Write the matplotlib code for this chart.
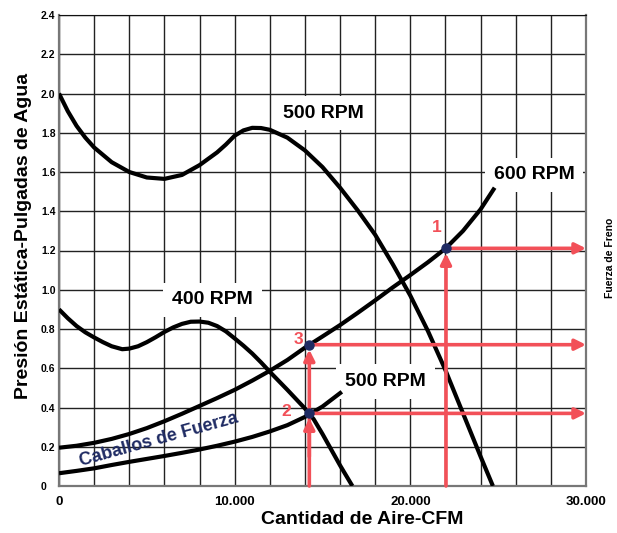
import matplotlib.pyplot as plt

plt.rcParams['font.family'] = ['Liberation Sans', 'DejaVu Sans']

RED = '#f25058'
NAVY = '#1f2b63'

# curva de presion 500 RPM (CFM, pulgadas de agua)
p500_x = [0, 500, 1000, 1500, 2000, 3000, 4000, 5000, 6000, 7000, 8000, 9000, 9500,
          10000, 10500, 11000, 11500, 12000, 13000, 14000, 15000, 16000, 17000,
          18000, 19000, 20000, 21000, 22000, 23000, 24000, 24700]
p500_y = [2.0, 1.91, 1.835, 1.775, 1.725, 1.65, 1.60, 1.572, 1.565, 1.585, 1.635, 1.70, 1.74,
          1.785, 1.812, 1.825, 1.824, 1.815, 1.775, 1.71, 1.625, 1.52, 1.405,
          1.28, 1.13, 0.97, 0.79, 0.59, 0.37, 0.15, 0.0]

# curva de presion 400 RPM
p400_x = [0, 500, 1000, 1500, 2000, 2500, 3000, 3600, 4000, 4500, 5000, 5500, 6000,
          6500, 7000, 7500, 8000, 8500, 9000, 9500, 10000, 10500, 11000, 11500,
          12000, 13000, 14000, 14500, 15000, 15500, 16000, 16700]
p400_y = [0.9, 0.855, 0.815, 0.783, 0.757, 0.733, 0.712, 0.697, 0.70, 0.712, 0.733, 0.758, 0.785,
          0.808, 0.826, 0.837, 0.838, 0.832, 0.815, 0.788, 0.752, 0.715, 0.675, 0.63,
          0.582, 0.49, 0.395, 0.34, 0.265, 0.185, 0.105, 0.0]

# caballos de fuerza 600 RPM
hp600_x = [0, 1000, 2000, 3000, 4000, 5000, 6000, 7000, 8000, 9000, 10000, 11000,
           12000, 13000, 14000, 15000, 16000, 17000, 18000, 19000, 20000, 21000,
           22000, 23000, 24000, 24800]
hp600_y = [0.195, 0.205, 0.22, 0.24, 0.265, 0.295, 0.33, 0.368, 0.408, 0.448, 0.49, 0.537,
           0.587, 0.642, 0.705, 0.762, 0.82, 0.882, 0.946, 1.012, 1.075, 1.14,
           1.21, 1.30, 1.41, 1.52]

# caballos de fuerza 500 RPM
hp500_x = [0, 1000, 2000, 3000, 4000, 5000, 6000, 7000, 8000, 9000, 10000, 11000,
           12000, 13000, 14000, 15000, 16100]
hp500_y = [0.065, 0.077, 0.09, 0.107, 0.123, 0.138, 0.153, 0.169, 0.186, 0.205, 0.226, 0.25,
           0.278, 0.31, 0.352, 0.405, 0.48]

# puntos de operacion
pt_x = [22030, 14250, 14250]
pt_y = [1.211, 0.37, 0.72]
pt_names = ['1', '2', '3']

x_ticks = list(range(0, 30001, 2000))
x_labels = {0: '0', 10000: '10.000', 20000: '20.000', 30000: '30.000'}
y_ticks = [i * 0.2 for i in range(13)]
y_labels = ['0', '0.2', '0.4', '0.6', '0.8', '1.0', '1.2', '1.4', '1.6', '1.8', '2.0', '2.2', '2.4']

fig = plt.figure(figsize=(6.17, 5.33), dpi=100)
ax = fig.add_axes([59 / 617, 47 / 533, 527 / 617, 471 / 533])
ax.set_xlim(0, 30000)
ax.set_ylim(0, 2.4)

ax.set_xticks(x_ticks)
ax.set_xticklabels([x_labels.get(t, '') for t in x_ticks], fontsize=9.5, fontweight='bold')
ax.set_yticks(y_ticks)
ax.set_yticklabels(y_labels, fontsize=7.5, fontweight='bold')
for lab in ax.get_yticklabels():
    lab.set_ha('left')
ax.tick_params(axis='y', length=0, pad=13)
ax.tick_params(axis='x', length=0, pad=7)
ax.grid(True, color='#222222', lw=1.0, zorder=0)
ax.set_axisbelow(True)
for s in ('left', 'bottom', 'right'):
    ax.spines[s].set_color('#777777')
    ax.spines[s].set_linewidth(1.6)
ax.spines['top'].set_color('#111111')

ax.set_xlabel('Cantidad de Aire-CFM', fontsize=14, fontweight='bold')
ax.xaxis.set_label_coords((362 - 59) / 527, -0.053)
ax.set_ylabel('Presión Estática-Pulgadas de Agua', fontsize=14, fontweight='bold')
ax.yaxis.set_label_coords(-0.052, 0.531)

# etiquetas con fondo blanco
box = dict(boxstyle='square,pad=0.45', fc='white', ec='none')
ax.text(15030, 1.90, '500 RPM', fontsize=14, fontweight='bold', ha='center', va='center', bbox=box, zorder=2)
ax.text(27050, 1.585, '600 RPM', fontsize=14, fontweight='bold', ha='center', va='center', bbox=box, zorder=2)
ax.text(8740, 0.948, '400 RPM', fontsize=14, fontweight='bold', ha='center', va='center', bbox=box, zorder=2)
ax.text(18590, 0.532, '500 RPM', fontsize=14, fontweight='bold', ha='center', va='center', bbox=box, zorder=2)

# curvas
for xs, ys in ((p500_x, p500_y), (p400_x, p400_y), (hp600_x, hp600_y), (hp500_x, hp500_y)):
    ax.plot(xs, ys, color='black', lw=3, solid_capstyle='butt', solid_joinstyle='round', zorder=3)

ax.text(5700, 0.236, 'Caballos de Fuerza', fontsize=13, fontweight='bold', color=NAVY,
        ha='center', va='center', rotation=15.5, zorder=4)

# lineas rojas con flechas
arrow = dict(arrowstyle='-|>', color=RED, lw=2.6, mutation_scale=16, shrinkA=0, shrinkB=0)
ax.annotate('', xy=(pt_x[0], pt_y[0] - 0.025), xytext=(pt_x[0], 0), arrowprops=arrow, zorder=4)
ax.annotate('', xy=(pt_x[2], pt_y[2] - 0.025), xytext=(pt_x[2], 0), arrowprops=arrow, zorder=4)
ax.annotate('', xy=(pt_x[1], pt_y[1] - 0.025), xytext=(pt_x[1], 0.15), arrowprops=arrow, zorder=4)
for px, py in zip(pt_x, pt_y):
    ax.annotate('', xy=(30000, py), xytext=(px, py), arrowprops=arrow, zorder=4,
                annotation_clip=False)

ax.plot(pt_x, pt_y, 'o', color=NAVY, ms=6.5, zorder=5, clip_on=False)

for name, tx, ty in zip(pt_names, [21520, 12960, 13620], [1.315, 0.379, 0.744]):
    ax.text(tx, ty, name, fontsize=12.5, fontweight='bold', color=RED, ha='center', va='center', zorder=5)

ax.text(1.0455, 0.484, 'Fuerza de Freno', transform=ax.transAxes, fontsize=7.5, fontweight='bold',
        rotation=90, ha='center', va='center')

fig.savefig('out.png', dpi=100)
